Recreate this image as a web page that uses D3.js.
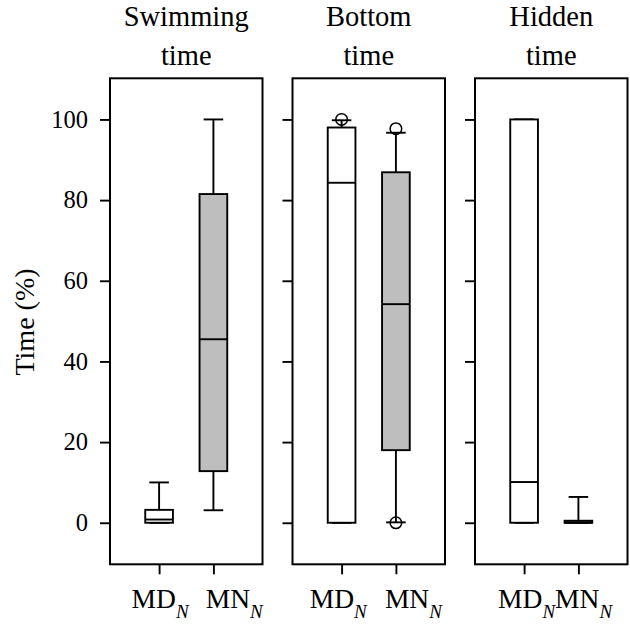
<!DOCTYPE html>
<html>
<head>
<meta charset="utf-8">
<script src="https://cdn.jsdelivr.net/npm/d3@7"></script>
<style>
  body { margin: 0; background: #fff; }
  svg { font-family: "Liberation Serif", "Times New Roman", serif; }
</style>
</head>
<body>
<svg></svg>
<script>
// data
const titleTop = ['Swimming', 'Bottom', 'Hidden'];
const titleBottom = ['time', 'time', 'time'];
const groups = ['MD', 'MN'];
const fills = ['#ffffff', '#bebebe'];
const yTicks = [0, 20, 40, 60, 80, 100];

// per panel: [MD, MN]
const whiskLo = [[0, 3.1], [0, 0.1], [0, 0]];
const q1 = [[0, 12.8], [0, 18.0], [0, 0]];
const med = [[0.8, 45.5], [84.3, 54.2], [10.1, 0]];
const q3 = [[3.2, 81.5], [98.0, 86.9], [100, 0.5]];
const whiskHi = [[10, 100], [99.8, 96.7], [100, 6.4]];
const outliers = [[[], []], [[100], [0, 97.7]], [[], []]];

const size = {w: 630, h: 625};
const panel = {top: 78.3, bottom: 564.3, w: 152.5, gap: 30, left0: 110};
// label start offsets from tick (labels were placed by hand in the original)
const labelDx = [[-27.5, -7.7], [-31.8, -11], [-26, -23.3]];

const svg = d3.select('svg')
    .attr('width', size.w)
    .attr('height', size.h);

const y = d3.scaleLinear()
    .domain([-10.3, 110.2])
    .range([panel.bottom, panel.top]);

const boxHalf = 0.255;
const capHalf = 0.18;
const lw = 1.9;

titleTop.forEach((t, p) => {
    const left = panel.left0 + p * (panel.w + panel.gap);
    const x = d3.scaleLinear()
        .domain([0.096, 2.904])
        .range([left, left + panel.w]);

    const g = svg.append('g');

    // y axis
    const yAxis = d3.axisLeft(y)
        .tickValues(yTicks)
        .tickSize(10)
        .tickPadding(12)
        .tickFormat(p === 0 ? d3.format('d') : () => '');
    const ya = g.append('g')
        .attr('transform', `translate(${left},0)`)
        .call(yAxis);
    ya.select('.domain').remove();
    ya.selectAll('line').attr('stroke-width', lw);
    ya.selectAll('text')
        .attr('font-size', 24.5)
        .attr('fill', '#000')
        .attr('font-family', '"Liberation Serif", serif');

    // x axis
    const xAxis = d3.axisBottom(x)
        .tickValues([1, 2])
        .tickSize(10)
        .tickFormat(() => '');
    const xa = g.append('g')
        .attr('transform', `translate(0,${panel.bottom})`)
        .call(xAxis);
    xa.select('.domain').remove();
    xa.selectAll('line').attr('stroke-width', lw);

    // group labels with subscript N
    groups.forEach((gr, i) => {
        const tx = g.append('text')
            .attr('x', x(i + 1) + labelDx[p][i])
            .attr('y', 608)
            .attr('font-size', 27.5);
        tx.append('tspan').text(gr);
        tx.append('tspan')
            .attr('font-size', 19)
            .attr('font-style', 'italic')
            .attr('dy', 10)
            .text('N');
    });

    // boxes
    groups.forEach((gr, i) => {
        const c = i + 1;
        const bg = g.append('g')
            .attr('stroke', '#000')
            .attr('stroke-width', lw)
            .attr('fill', 'none');
        // whiskers
        bg.append('line')
            .attr('x1', x(c)).attr('x2', x(c))
            .attr('y1', y(q3[p][i])).attr('y2', y(whiskHi[p][i]));
        bg.append('line')
            .attr('x1', x(c)).attr('x2', x(c))
            .attr('y1', y(q1[p][i])).attr('y2', y(whiskLo[p][i]));
        // caps
        [whiskHi[p][i], whiskLo[p][i]].forEach(v => {
            bg.append('line')
                .attr('x1', x(c - capHalf)).attr('x2', x(c + capHalf))
                .attr('y1', y(v)).attr('y2', y(v));
        });
        // box
        bg.append('rect')
            .attr('x', x(c - boxHalf))
            .attr('width', x(c + boxHalf) - x(c - boxHalf))
            .attr('y', y(q3[p][i]))
            .attr('height', y(q1[p][i]) - y(q3[p][i]))
            .attr('fill', fills[i]);
        // median
        bg.append('line')
            .attr('x1', x(c - boxHalf)).attr('x2', x(c + boxHalf))
            .attr('y1', y(med[p][i])).attr('y2', y(med[p][i]));
        // outliers
        bg.selectAll('circle.out')
            .data(outliers[p][i])
            .enter()
            .append('circle')
            .attr('cx', x(c))
            .attr('cy', d => y(d))
            .attr('r', 5.8)
            .attr('stroke-width', 1.5);
    });

    // panel frame
    g.append('rect')
        .attr('x', left)
        .attr('y', panel.top)
        .attr('width', panel.w)
        .attr('height', panel.bottom - panel.top)
        .attr('fill', 'none')
        .attr('stroke', '#000')
        .attr('stroke-width', 2);

    // title
    const cx = left + panel.w / 2;
    g.append('text')
        .attr('x', cx).attr('y', 26)
        .attr('text-anchor', 'middle')
        .attr('font-size', 28.5)
        .text(t);
    g.append('text')
        .attr('x', cx).attr('y', 65)
        .attr('text-anchor', 'middle')
        .attr('font-size', 28.5)
        .text(titleBottom[p]);
});

// y label
svg.append('text')
    .attr('transform', 'translate(34,322) rotate(-90)')
    .attr('text-anchor', 'middle')
    .attr('font-size', 28)
    .text('Time (%)');
</script>
</body>
</html>
